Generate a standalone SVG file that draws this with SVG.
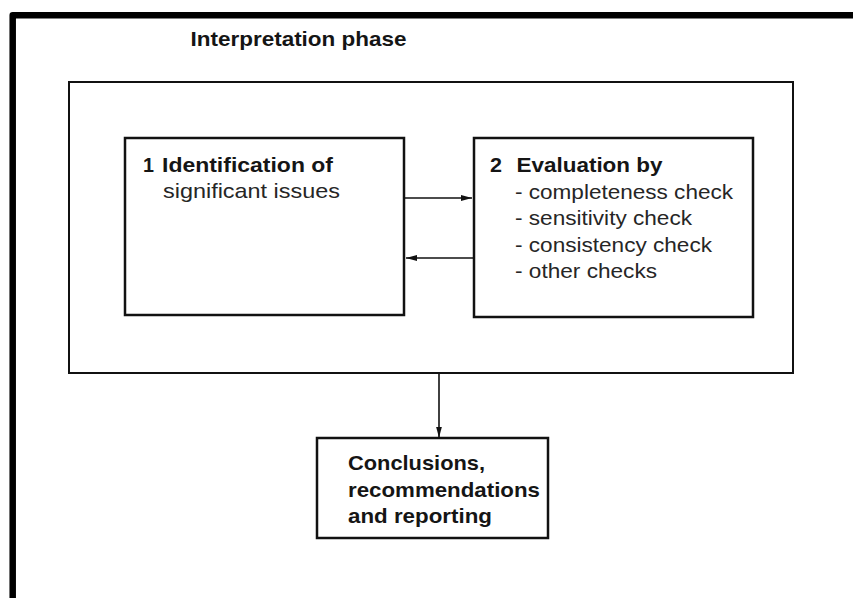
<svg xmlns="http://www.w3.org/2000/svg" width="853" height="598" viewBox="0 0 853 598">
  <style>
    .frame { fill: none; stroke: #000; stroke-width: 6.5; stroke-linejoin: round; }
    .box { fill: #fff; stroke: #111; stroke-width: 2.5; }
    .phase { fill: none; stroke: #111; stroke-width: 2; }
    .link { stroke: #111; stroke-width: 1.6; fill: none; }
    .b { font-family: "Liberation Sans", Arial, sans-serif; font-size: 21px; font-weight: bold; fill: #151515; }
    .r { font-family: "Liberation Sans", Arial, sans-serif; font-size: 21px; fill: #262626; }
  </style>
  <defs>
    <marker id="arrow" viewBox="0 0 11 6" refX="11" refY="3" markerWidth="11" markerHeight="6" markerUnits="userSpaceOnUse" orient="auto">
      <path d="M0,0 L11,3 L0,6 Z" fill="#111"/>
    </marker>
  </defs>

  <rect width="853" height="598" fill="#fff"/>

  <!-- outer frame: top and left rules only -->
  <path class="frame" d="M12.7,598 L12.7,15.3 L853,15.3"/>

  <g id="title">
    <text class="b" x="190.5" y="46" textLength="216" lengthAdjust="spacingAndGlyphs">Interpretation phase</text>
  </g>

  <g id="interpretation-phase">
    <rect class="phase" x="69" y="82" width="724" height="291"/>
  </g>

  <g id="identification">
    <rect class="box" x="125" y="138" width="279" height="177"/>
    <text class="b" x="143" y="172" textLength="11" lengthAdjust="spacingAndGlyphs">1</text>
    <text class="b" x="162" y="172" textLength="171" lengthAdjust="spacingAndGlyphs">Identification of</text>
    <text class="r" x="163" y="198" textLength="177" lengthAdjust="spacingAndGlyphs">significant issues</text>
  </g>

  <g id="evaluation">
    <rect class="box" x="474" y="138" width="279" height="179"/>
    <text class="b" x="490" y="172" textLength="12" lengthAdjust="spacingAndGlyphs">2</text>
    <text class="b" x="516.5" y="172" textLength="146" lengthAdjust="spacingAndGlyphs">Evaluation by</text>
    <text class="r" x="515" y="198.5" textLength="218" lengthAdjust="spacingAndGlyphs">- completeness check</text>
    <text class="r" x="515" y="225" textLength="177" lengthAdjust="spacingAndGlyphs">- sensitivity check</text>
    <text class="r" x="515" y="251.5" textLength="197" lengthAdjust="spacingAndGlyphs">- consistency check</text>
    <text class="r" x="515" y="278" textLength="142" lengthAdjust="spacingAndGlyphs">- other checks</text>
  </g>

  <g id="conclusions">
    <rect class="box" x="317" y="438" width="231" height="100"/>
    <text class="b" x="348" y="470" textLength="137" lengthAdjust="spacingAndGlyphs">Conclusions,</text>
    <text class="b" x="348" y="497" textLength="192" lengthAdjust="spacingAndGlyphs">recommendations</text>
    <text class="b" x="348" y="523" textLength="144" lengthAdjust="spacingAndGlyphs">and reporting</text>
  </g>

  <g id="connectors">
    <line class="link" x1="404" y1="198" x2="472" y2="198" marker-end="url(#arrow)"/>
    <line class="link" x1="474" y1="258" x2="406" y2="258" marker-end="url(#arrow)"/>
    <line class="link" x1="439" y1="373" x2="439" y2="437.5" marker-end="url(#arrow)"/>
  </g>
</svg>
